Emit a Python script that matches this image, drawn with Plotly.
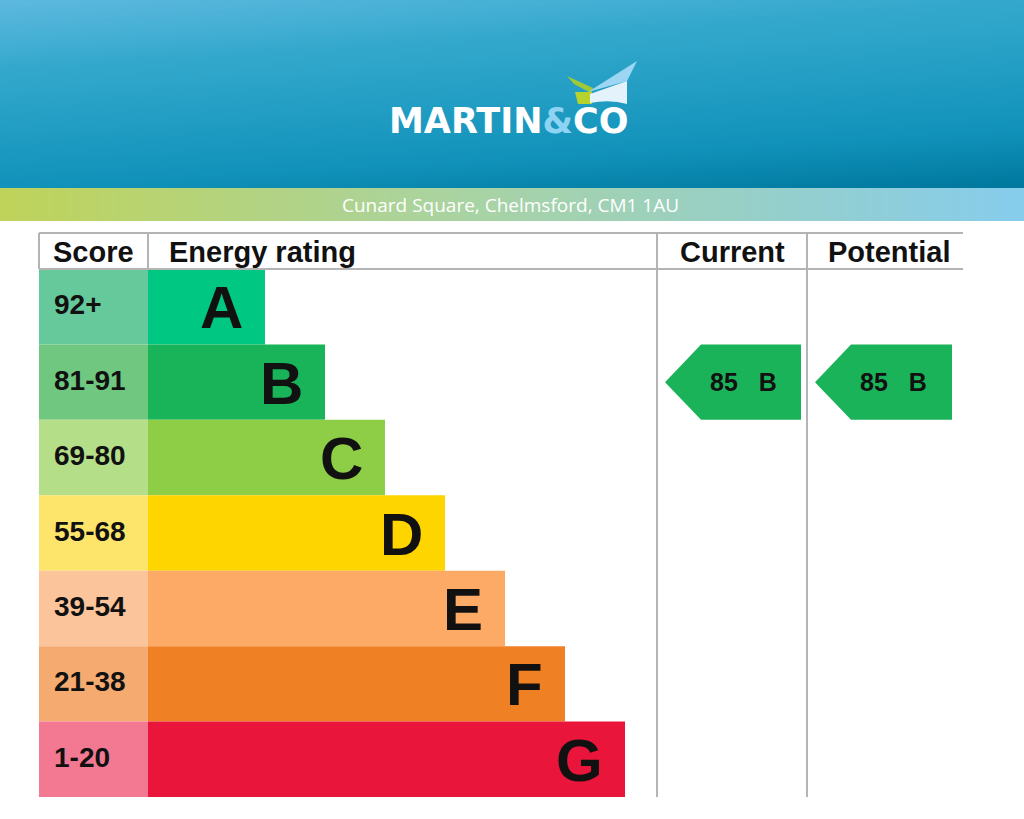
import numpy as np
import plotly.graph_objects as go

# ---------------- data ----------------
brand_left = "MARTIN"
brand_amp = "&"
brand_right = "CO"
address = "Cunard Square, Chelmsford, CM1 1AU"
columns = ["Score", "Energy rating", "Current", "Potential"]
bands = ["A", "B", "C", "D", "E", "F", "G"]
score_ranges = ["92+", "81-91", "69-80", "55-68", "39-54", "21-38", "1-20"]
band_min = [92, 81, 69, 55, 39, 21, 1]
bar_steps = [1, 2, 3, 4, 5, 6, 7]
band_colors = ["#00c781", "#19b459", "#8dce46", "#ffd500", "#fcaa65", "#ef8023", "#e9153b"]
score_colors = ["#66c99b", "#70c77f", "#b4de88", "#fde46a", "#fbc49b", "#f5ab70", "#f27991"]
current_score = 85
potential_score = 85

# ---------------- layout constants (pixels) ----------------
W, H = 1024, 819
header_h = 188
strip_top, strip_bot = 188, 221
table_top, head_bot, table_bot = 233, 269, 797
col_edges = [39, 148, 657, 807, 963]
row_h = (table_bot - head_bot) / len(bands)
bar_base = col_edges[1]
step_px = 60
bar_offset = 57
grid = "#b4b4b4"

def band_of(score):
    for i, m in enumerate(band_min):
        if score >= m:
            return i
    return len(bands) - 1

row_centers = [head_bot + row_h * (i + 0.5) for i in range(len(bands))]
bar_len = [bar_offset + step_px * s for s in bar_steps]

fig = go.Figure()

# header gradient
nx, ny = 128, 94
xe = np.linspace(0, W, nx + 1)
ye = np.linspace(0, header_h, ny + 1)
xc = (xe[:-1] + xe[1:]) / 2 / W
yc = (ye[:-1] + ye[1:]) / 2 / header_h
Z = 0.75 * yc[:, None] ** 1.1 + 0.25 * xc[None, :]
fig.add_trace(go.Heatmap(
    x=xe, y=ye, z=Z, zmin=0, zmax=1, showscale=False, hoverinfo="skip",
    colorscale=[[0, "#5db8de"], [0.25, "#33a8cc"], [0.75, "#1192ba"], [1, "#00779d"]]))

# address strip gradient
sx = np.linspace(0, W, 257)
sz = ((sx[:-1] + sx[1:]) / 2 / W)[None, :]
fig.add_trace(go.Heatmap(
    x=sx, y=[strip_top, strip_bot], z=sz, zmin=0, zmax=1, showscale=False, hoverinfo="skip",
    colorscale=[[0, "#bfd35a"], [0.45, "#a9d3a2"], [1, "#86ccec"]]))

# score cells
fig.add_trace(go.Bar(
    orientation="h", y=row_centers, x=[col_edges[1] - col_edges[0]] * len(bands),
    base=col_edges[0], width=row_h, marker=dict(color=score_colors, line=dict(width=0)),
    hoverinfo="skip"))
# rating bars
fig.add_trace(go.Bar(
    orientation="h", y=row_centers, x=bar_len, base=bar_base, width=row_h,
    marker=dict(color=band_colors, line=dict(width=0)), hoverinfo="skip"))

shapes = []
ann = []

# logo icon
shapes += [
    dict(type="path", path="M567,76 L593,88 L591,93 L574,84 Z", fillcolor="#9fc93a", line=dict(width=0), layer="above"),
    dict(type="path", path="M575,92 L592,92 L592,104 L578,104 Z", fillcolor="#b7d22c", line=dict(width=0), layer="above"),
    dict(type="path", path="M588,92 L637,61 L627,81 Z", fillcolor="#9dd6f2", line=dict(width=0), layer="above"),
    dict(type="path", path="M590,94 L627,81 L627,104 Q610,99 590,103 Z", fillcolor="#e4f3fb", line=dict(width=0), layer="above"),
]
ann.append(dict(x=508, y=121, xref="x", yref="y", showarrow=False,
                text=brand_left + "<span style='color:#8fd3f3'>" + "&amp;" + "</span>" + brand_right,
                font=dict(family="DejaVu Sans", size=35, color="white", weight="bold")))
ann.append(dict(x=510, y=205, xref="x", yref="y", showarrow=False, text=address,
                font=dict(family="Open Sans", size=19, color="white")))

# table lines
shapes += [
    dict(type="line", x0=col_edges[0], x1=col_edges[-1], y0=table_top, y1=table_top, line=dict(color=grid, width=2)),
    dict(type="line", x0=col_edges[0], x1=col_edges[-1], y0=head_bot, y1=head_bot, line=dict(color=grid, width=2)),
    dict(type="line", x0=col_edges[0], x1=col_edges[0], y0=table_top, y1=head_bot, line=dict(color=grid, width=2)),
    dict(type="line", x0=col_edges[1], x1=col_edges[1], y0=table_top, y1=head_bot, line=dict(color=grid, width=2)),
    dict(type="line", x0=col_edges[2], x1=col_edges[2], y0=table_top, y1=table_bot, line=dict(color=grid, width=2)),
    dict(type="line", x0=col_edges[3], x1=col_edges[3], y0=table_top, y1=table_bot, line=dict(color=grid, width=2)),
]

hy = (table_top + head_bot) / 2 + 1
hfont = dict(family="Liberation Sans", size=29, color="#111111", weight="bold")
ann.append(dict(x=51, y=hy, text=columns[0], xanchor="left", showarrow=False, font=hfont))
ann.append(dict(x=167, y=hy, text=columns[1], xanchor="left", showarrow=False, font=hfont))
ann.append(dict(x=(col_edges[2] + col_edges[3]) / 2, y=hy, text=columns[2], showarrow=False, font=hfont))
ann.append(dict(x=889, y=hy, text=columns[3], showarrow=False, font=hfont))

for i, b in enumerate(bands):
    ann.append(dict(x=52, y=row_centers[i], text=score_ranges[i], xanchor="left", showarrow=False,
                    yshift=2, font=dict(family="Liberation Sans", size=28, color="#111111", weight="bold")))
    ann.append(dict(x=bar_base + bar_len[i] - 20, y=row_centers[i], text=b, xanchor="right", showarrow=False,
                    yshift=-1, font=dict(family="Liberation Sans", size=60, color="#111111", weight="bold")))

# arrows
for score, (cl, cr), rmargin in [(current_score, (col_edges[2], col_edges[3]), 6),
                                 (potential_score, (col_edges[3], col_edges[4]), 11)]:
    r = band_of(score)
    yt = head_bot + row_h * r
    yb = yt + row_h
    yc_ = (yt + yb) / 2
    tip = cl + 8
    corner = tip + 36
    right = cr - rmargin
    shapes.append(dict(type="path",
                       path=f"M{tip},{yc_} L{corner},{yt} L{right},{yt} L{right},{yb} L{corner},{yb} Z",
                       fillcolor="#1bb35a", line=dict(width=0), layer="above"))
    ann.append(dict(x=(tip + right) / 2 + 10, y=yc_, showarrow=False,
                    text=f"{score}\u00a0\u00a0\u00a0{bands[r]}",
                    font=dict(family="Liberation Sans", size=25, color="#111111", weight="bold")))

for a in ann:
    a.setdefault("xref", "x")
    a.setdefault("yref", "y")

fig.update_layout(
    width=W, height=H, autosize=False, margin=dict(l=0, r=0, t=0, b=0, pad=0),
    paper_bgcolor="white", plot_bgcolor="white", showlegend=False,
    xaxis=dict(range=[0, W], visible=False, fixedrange=True),
    yaxis=dict(range=[H, 0], visible=False, fixedrange=True),
    shapes=shapes, annotations=ann, barmode="overlay",
)
fig.write_html("out.html", config={"displayModeBar": False})
